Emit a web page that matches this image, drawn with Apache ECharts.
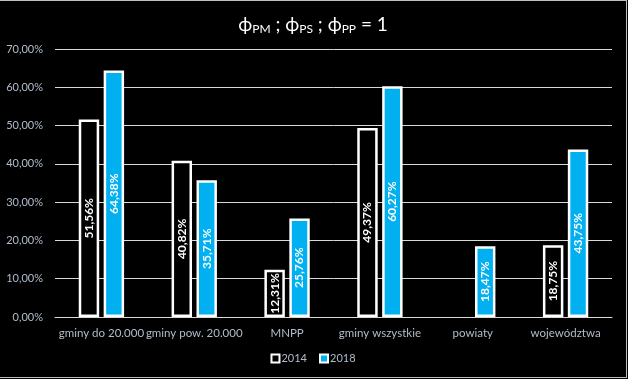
<!DOCTYPE html>
<html>
<head>
<meta charset="utf-8">
<script src="https://cdn.jsdelivr.net/npm/echarts@6/dist/echarts.min.js"></script>
<style>
html,body{margin:0;padding:0;background:#000;}
#wrap{width:627px;height:378px;border-top:1px solid #bfbfbf;border-right:1px solid #bfbfbf;border-bottom:1px solid #bfbfbf;box-sizing:border-box;background:#000;}
#chart{width:626px;height:376px;}
</style>
</head>
<body>
<div id="wrap"><div id="chart"></div></div>
<script>
var categories = ['gminy do 20.000', 'gminy pow. 20.000', 'MNPP', 'gminy wszystkie', 'powiaty', 'województwa'];
var values2014 = [51.56, 40.82, 12.31, 49.37, null, 18.75];
var values2018 = [64.38, 35.71, 25.76, 60.27, 18.47, 43.75];
var seriesNames = ['2014', '2018'];
var yTicks = [0, 10, 20, 30, 40, 50, 60, 70];

var font = 'Lato, "Open Sans", sans-serif';
var axisColor = '#b0bccb';
function pct(v){ return v.toFixed(2).replace('.', ',') + '%'; }

var chart = echarts.init(document.getElementById('chart'));
var labelCfg = {
  show: true,
  position: 'inside',
  rotate: 90,
  color: '#ffffff',
  fontWeight: 'bold',
  fontSize: 12,
  fontFamily: font,
  formatter: function(p){ return p.value == null ? '' : pct(p.value); }
};
chart.setOption({
  backgroundColor: '#000',
  animation: false,
  title: {
    text: 'ϕ{s|PM} ; ϕ{s|PS} ; ϕ{s|PP} = 1',
    left: 'center',
    top: 9,
    textStyle: {
      color: '#ffffff', fontSize: 19, fontWeight: 'normal', fontFamily: font,
      rich: { s: { fontSize: 12, color: '#ffffff', fontFamily: font, padding: [8, 0, 0, 0] } }
    }
  },
  legend: {
    data: seriesNames,
    bottom: 8,
    left: 'center',
    itemWidth: 8,
    itemHeight: 8,
    itemGap: 12,
    icon: 'rect',
    textStyle: { color: axisColor, fontSize: 11, fontFamily: font, padding: [0, 0, 0, -3] }
  },
  grid: { left: 55, right: 14, top: 48, bottom: 60 },
  xAxis: {
    type: 'category',
    data: categories,
    axisLine: { lineStyle: { color: '#d9d9d9', width: 1 } },
    axisTick: { show: false },
    axisLabel: { color: axisColor, fontSize: 11.5, fontFamily: font, margin: 10, interval: 0 }
  },
  yAxis: {
    type: 'value',
    min: yTicks[0],
    max: yTicks[yTicks.length - 1],
    interval: 10,
    axisLine: { show: false },
    axisTick: { show: false },
    splitLine: { lineStyle: { color: '#d9d9d9', width: 1 } },
    axisLabel: { color: axisColor, fontSize: 11, fontFamily: font, margin: 12, formatter: pct }
  },
  series: [
    {
      name: seriesNames[0], type: 'bar', data: values2014,
      barWidth: '22%', barGap: '22%',
      itemStyle: { color: '#000000', borderColor: '#ffffff', borderWidth: 2.5 },
      label: labelCfg
    },
    {
      name: seriesNames[1], type: 'bar', data: values2018,
      barWidth: '22%', barGap: '22%',
      itemStyle: { color: '#00b0f0', borderColor: '#ffffff', borderWidth: 2.5 },
      label: labelCfg
    }
  ]
});
</script>
</body>
</html>
